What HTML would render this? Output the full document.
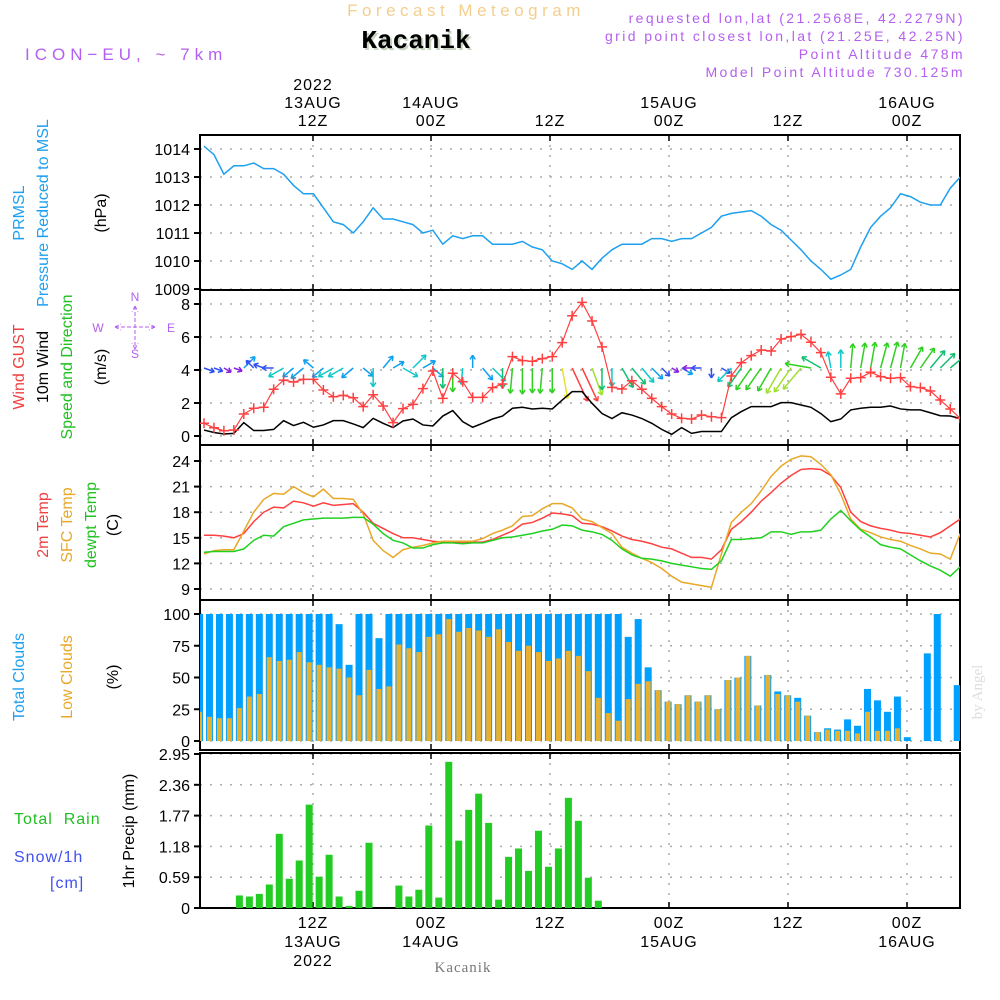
<!DOCTYPE html>
<html><head><meta charset="utf-8"><style>
html,body{margin:0;padding:0;background:#fff;}
svg{display:block;}
</style></head><body>
<svg id="chart" width="1000" height="1000" viewBox="0 0 1000 1000" xmlns="http://www.w3.org/2000/svg" font-family="Liberation Sans, sans-serif">
<defs><clipPath id="pc"><rect x="200" y="135" width="760" height="775"/></clipPath></defs>
<g>
<text x="466" y="16" text-anchor="middle" font-size="17" fill="#f3cf8e" letter-spacing="4.5">Forecast Meteogram</text>
<text x="418" y="50" text-anchor="middle" font-size="26" font-weight="bold" style="font-family:'Liberation Mono',monospace" fill="#c8d4c0">Kacanik</text>
<text x="416" y="48" text-anchor="middle" font-size="26" font-weight="bold" style="font-family:'Liberation Mono',monospace" fill="#000">Kacanik</text>
<text x="25" y="60" font-size="17" fill="#b45ff0" letter-spacing="5">ICON−EU, ~ 7km</text>
<g font-size="14" fill="#b45ff0" text-anchor="end" letter-spacing="2.4">
<text x="965" y="23">requested lon,lat (21.2568E, 42.2279N)</text>
<text x="965" y="41">grid point closest lon,lat (21.25E, 42.25N)</text>
<text x="965" y="59">Point Altitude 478m</text>
<text x="965" y="77">Model Point Altitude 730.125m</text>
</g>
</g>
<g id="frames"></g>
<g id="marks" clip-path="url(#pc)"></g>
<g id="labels"></g>
<g font-size="16">
<text transform="translate(24,213) rotate(-90)" text-anchor="middle" fill="#1ea0f0">PRMSL</text>
<text transform="translate(48,213) rotate(-90)" text-anchor="middle" fill="#1ea0f0">Pressure Reduced to MSL</text>
<text transform="translate(106,213) rotate(-90)" text-anchor="middle" fill="#000">(hPa)</text>
<text transform="translate(24,367) rotate(-90)" text-anchor="middle" fill="#f04040">Wind GUST</text>
<text transform="translate(48,367) rotate(-90)" text-anchor="middle" fill="#000">10m Wind</text>
<text transform="translate(72,367) rotate(-90)" text-anchor="middle" fill="#20c020">Speed and Direction</text>
<text transform="translate(106,367) rotate(-90)" text-anchor="middle" fill="#000">(m/s)</text>
<g fill="#b45ff0" font-size="12">
<text x="135" y="301" text-anchor="middle">N</text>
<text x="98" y="332" text-anchor="middle">W</text><text x="171" y="332" text-anchor="middle">E</text>
<text x="135" y="358" text-anchor="middle">S</text>
<path d="M115,327H155M115,327l6,-3M115,327l6,3M155,327l-6,-3M155,327l-6,3M135,306V349M135,306l-3,6M135,306l3,6M135,349l-3,-6M135,349l3,-6" stroke="#b45ff0" fill="none" stroke-dasharray="4,2"/>
</g>
<text transform="translate(48,525) rotate(-90)" text-anchor="middle" fill="#f04040">2m Temp</text>
<text transform="translate(72,525) rotate(-90)" text-anchor="middle" fill="#e8a828">SFC Temp</text>
<text transform="translate(96,525) rotate(-90)" text-anchor="middle" fill="#20c020">dewpt Temp</text>
<text transform="translate(118,525) rotate(-90)" text-anchor="middle" fill="#000">(C)</text>
<text transform="translate(24,677) rotate(-90)" text-anchor="middle" fill="#1ea0f0">Total Clouds</text>
<text transform="translate(72,677) rotate(-90)" text-anchor="middle" fill="#e8a828">Low Clouds</text>
<text transform="translate(118,677) rotate(-90)" text-anchor="middle" fill="#000">(%)</text>
<text x="14" y="824" fill="#20c020" letter-spacing="1">Total&#160;&#160;Rain</text>
<text x="14" y="862" fill="#4050f0" letter-spacing="1">Snow/1h</text>
<text x="50" y="888" fill="#4050f0" letter-spacing="1">[cm]</text>
<text transform="translate(134,831) rotate(-90)" text-anchor="middle" fill="#000">1hr Precip (mm)</text>
<text transform="translate(982,692) rotate(-90)" text-anchor="middle" fill="#ddd" style="font-family:'Liberation Serif',serif" font-size="15">by Angel</text>
<text x="463" y="972" text-anchor="middle" fill="#777" style="font-family:'Liberation Serif',serif" font-size="15" letter-spacing="1">Kacanik</text>
</g>
</svg>
<script>
const pressure=[1014.1,1013.8,1013.1,1013.4,1013.4,1013.5,1013.3,1013.3,1013.1,1012.7,1012.4,1012.4,1011.9,1011.4,1011.3,1011.0,1011.4,1011.9,1011.5,1011.5,1011.4,1011.3,1011.0,1011.1,1010.6,1010.9,1010.8,1010.9,1010.9,1010.6,1010.6,1010.6,1010.7,1010.5,1010.4,1010.0,1009.9,1009.7,1010.0,1009.7,1010.1,1010.4,1010.6,1010.6,1010.6,1010.8,1010.8,1010.7,1010.8,1010.8,1011.0,1011.2,1011.6,1011.7,1011.75,1011.8,1011.6,1011.3,1011.1,1010.75,1010.4,1010.0,1009.7,1009.35,1009.5,1009.7,1010.5,1011.2,1011.6,1011.9,1012.4,1012.3,1012.1,1012.0,1012.0,1012.6,1013.0];
const gust=[0.77,0.5,0.32,0.36,1.33,1.68,1.74,2.83,3.39,3.27,3.43,3.43,2.79,2.38,2.46,2.32,1.78,2.5,1.82,0.81,1.66,1.92,2.87,3.94,2.28,3.8,3.29,2.34,2.34,2.93,3.15,4.81,4.57,4.53,4.69,4.81,5.66,7.29,8.1,6.97,5.4,2.95,2.85,3.35,2.83,2.28,1.78,1.33,1.07,1.03,1.27,1.17,1.11,3.64,4.44,4.87,5.21,5.15,5.88,6.02,6.16,5.68,5.05,3.56,2.55,3.5,3.54,3.86,3.6,3.5,3.54,2.99,2.93,2.73,2.18,1.64,1.07];
const wind10m=[0.36,0.21,0.12,0.16,0.81,0.33,0.33,0.4,0.93,0.63,0.83,0.53,0.67,0.93,0.93,0.73,0.51,1.07,0.77,0.51,0.91,1.03,0.67,0.61,1.21,1.54,0.87,0.53,0.77,1.03,1.21,1.68,1.74,1.64,1.68,1.64,2.18,2.69,2.69,1.98,1.36,1.06,1.41,1.27,1.06,0.77,0.4,0.1,0.51,0.16,0.27,0.27,0.27,1.11,1.48,1.78,1.78,1.78,2.02,2.02,1.88,1.74,1.36,0.87,1.03,1.58,1.68,1.74,1.74,1.82,1.64,1.58,1.58,1.41,1.23,1.21,1.06];
const windDir=[-20,-20,-30,-20,45,135,160,180,-150,-140,-140,140,-140,-150,-150,-140,-40,-90,50,30,-30,45,30,-40,-90,-90,-95,90,-50,-45,-90,-95,-90,-90,-95,-90,-80,-65,-65,-70,-90,-90,-60,-50,-50,-45,-45,-30,-30,180,180,-90,-30,-135,-125,-125,-125,-120,-120,-125,-130,170,150,100,90,85,80,80,75,75,80,60,55,50,45,40,35];
const temp2m=[15.3,15.3,15.2,15.0,15.5,16.9,18.0,18.6,18.5,19.3,19.1,18.7,19.1,18.8,18.9,19.0,18.0,16.7,16.1,15.5,15.0,15.0,14.8,14.6,14.5,14.5,14.5,14.5,14.5,14.8,15.3,15.8,16.6,16.8,17.3,17.9,17.8,17.6,16.7,16.6,16.3,15.8,15.2,14.8,14.6,14.3,13.9,13.7,13.2,12.7,12.7,12.5,13.6,16.0,16.9,18.0,19.3,20.3,21.4,22.3,23.0,23.1,23.0,22.3,20.9,18.0,16.9,16.4,16.1,15.9,15.6,15.5,15.3,15.1,15.6,16.4,17.2];
const tempSfc=[13.1,13.5,13.6,13.6,15.8,18.0,19.5,20.2,20.1,21.0,20.3,19.8,20.7,19.6,19.6,19.5,17.8,14.7,13.5,12.7,13.6,13.9,14.1,14.4,14.6,14.6,14.6,14.6,14.9,15.5,15.9,16.4,17.5,17.6,18.4,19.0,19.0,18.5,17.2,16.9,16.2,15.5,13.9,13.2,12.6,12.1,11.4,10.5,9.8,9.6,9.4,9.2,13.1,16.8,18.0,19.0,20.5,22.2,23.4,24.2,24.6,24.5,23.6,22.4,20.1,17.2,16.0,15.6,15.1,14.8,14.6,14.1,13.7,13.2,13.1,12.5,15.5];
const dewpt=[13.3,13.4,13.4,13.4,13.7,14.7,15.3,15.2,16.3,16.7,17.1,17.2,17.3,17.3,17.3,17.4,17.4,16.6,15.5,14.7,14.4,13.8,13.8,14.2,14.4,14.4,14.3,14.4,14.4,14.7,15.0,15.1,15.3,15.5,15.8,16.0,16.5,16.4,15.9,15.7,15.4,14.7,13.7,13.0,12.6,12.5,12.3,12.0,11.8,11.6,11.4,11.3,12.3,14.8,14.8,14.9,15.0,15.7,15.7,15.4,15.7,15.7,15.9,17.2,18.2,17.0,15.9,15.1,14.2,13.9,13.7,13.0,12.3,11.7,11.2,10.5,11.6];
const totalClouds=[100,100,100,100,100,100,100,100,100,100,100,100,100,100,92,60,100,100,81,100,100,100,100,100,100,100,100,100,100,100,100,100,100,100,100,100,100,100,100,100,100,100,100,82,96,58,40,31,29,36,31,36,25,48,50,67,28,52,39,36,34,20,7,10,9,17,12,41,32,23,35,3,0,69,100,0,44];
const lowClouds=[23,19,18,18,26,35,37,66,63,64,70,62,60,58,57,50,36,56,41,43,76,73,70,82,84,96,86,89,87,82,88,78,71,75,70,63,65,71,67,55,34,22,16,33,45,47,40,31,29,36,31,36,25,48,50,67,28,52,37,36,31,20,7,9,8,8,6,23,8,8,10,0,0,0,0,0,0];
const precip=[0,0,0,0,0.24,0.22,0.27,0.45,1.42,0.56,0.91,1.98,0.60,1.02,0.22,0.04,0.33,1.25,0,0,0.43,0.22,0.35,1.58,0.20,2.80,1.29,1.88,2.19,1.63,0.16,0.98,1.14,0.71,1.48,0.79,1.14,2.11,1.67,0.58,0.14,0,0,0,0,0,0,0,0,0,0,0,0,0,0,0,0,0,0,0,0,0,0,0,0,0,0,0,0,0,0,0,0,0,0,0,0];
const pTicks=[1009,1010,1011,1012,1013,1014];
const wTicks=[0,2,4,6,8];
const tTicks=[9,12,15,18,21,24];
const cTicks=[0,25,50,75,100];
const rTicks=[0,0.59,1.18,1.77,2.36,2.95];
const timeTicks=["12Z","00Z","12Z","00Z","12Z","00Z"];
const dateTicks=["13AUG","14AUG","","15AUG","","16AUG"];

const NS='http://www.w3.org/2000/svg';
const xl=i=>204+9.95*i, xb=i=>199.5+9.97*i;
const yP=v=>149+(1014-v)*28, yW=v=>436-v*16.5, yT=v=>461+(24-v)*128/15, yC=v=>741-v*1.27, yR=v=>908-v*154/2.95;
const gridX=[313,431,550,669,788,907];
const panels=[{t:135,b:290,ticks:pTicks,y:yP,n:'pressure'},{t:290,b:445,ticks:wTicks,y:yW,n:'wind'},{t:445,b:600,ticks:tTicks,y:yT,n:'temperature'},{t:600,b:750,ticks:cTicks,y:yC,n:'clouds'},{t:753,b:908,ticks:rTicks,y:yR,n:'precip'}];
function mk(tag,at,parent){const e=document.createElementNS(NS,tag);for(const k in at)e.setAttribute(k,at[k]);parent.appendChild(e);return e;}
const F=document.getElementById('frames'),M=document.getElementById('marks'),L=document.getElementById('labels');
panels.forEach(p=>{
  const g=mk('g',{},F);
  
  
  p.ticks.forEach(v=>{
    const y=p.y(v);
    const gl=mk('line',{x1:200,x2:960,y1:y,y2:y,stroke:'#aaa','stroke-width':1.5,'stroke-dasharray':'2,8'},g);
    
    
    mk('line',{x1:194,x2:200,y1:y,y2:y,stroke:'#000','stroke-width':2},g);
    const tx=mk('text',{x:190,y:y+6,'text-anchor':'end','font-size':16,fill:'#000'},g);
    tx.textContent=String(v);
    
    
  });
  gridX.forEach(x=>{
    const vl=mk('line',{x1:x,x2:x,y1:p.t,y2:p.b,stroke:'#aaa','stroke-width':1.5,'stroke-dasharray':'2,8'},g);
    
    
    mk('line',{x1:x,x2:x,y1:p.t,y2:p.t+6,stroke:'#000','stroke-width':1.5},g);
    mk('line',{x1:x,x2:x,y1:p.b-6,y2:p.b,stroke:'#000','stroke-width':1.5},g);
  });
  mk('rect',{x:200,y:p.t,width:760,height:p.b-p.t,fill:'none',stroke:'#000','stroke-width':2},g);
});
gridX.forEach((x,k)=>{
  const top=k==0?['2022',dateTicks[k],timeTicks[k]]:[dateTicks[k],timeTicks[k]];
  top.forEach((s,j)=>{if(!s)return;const y=126-(top.length-1-j)*18;const t=mk('text',{x:x,y:y,'text-anchor':'middle','font-size':16,fill:'#000','letter-spacing':1},L);t.textContent=s;
    
    });
  const bot=[timeTicks[k],dateTicks[k]];if(k==0)bot.push('2022');
  bot.forEach((s,j)=>{if(!s)return;const t=mk('text',{x:x,y:928+j*19,'text-anchor':'middle','font-size':16,fill:'#000','letter-spacing':1},L);t.textContent=s;
    
    });
});
function line(arr,fy,color,name,w){
  const pl=mk('polyline',{points:arr.map((v,i)=>xl(i)+','+fy(v)).join(' '),fill:'none',stroke:color,'stroke-width':w||1.5},M);
  
  
  return pl;
}
line(pressure,yP,'#1ea0f0','pressure-line');
totalClouds.forEach((v,i)=>{const r=mk('rect',{x:xb(i)-3.5,y:yC(v),width:7,height:741-yC(v),fill:'#00a0ff'},M);
  
  });
lowClouds.forEach((v,i)=>{const r=mk('rect',{x:xb(i)-2.5,y:yC(v),width:5,height:741-yC(v),fill:'#e8b030'},M);
  
  });
precip.forEach((v,i)=>{const r=mk('rect',{x:xb(i)-3.5,y:yR(v),width:7,height:908-yR(v),fill:'#22cc22'},M);
  
  });
line(temp2m,yT,'#ff4040','temp-2m-line');
line(tempSfc,yT,'#e8a828','temp-sfc-line');
line(dewpt,yT,'#20d020','dewpoint-line');
function spdColor(s){const c=['#8a20e0','#3050f0','#10a0f0','#10c8c8','#10c070','#30d020','#a0e030','#e8e030','#ff4040'];return c[Math.max(0,Math.min(8,Math.round(s*3)))];}
windDir.forEach((d,i)=>{
  const s=wind10m[i],len=7+s*11,a=d*Math.PI/180,x0=xl(i),y0=368;
  const x1=x0+len*Math.cos(a),y1=y0-len*Math.sin(a),c=spdColor(s);
  const g=mk('g',{stroke:c,'stroke-width':1.5,fill:'none'},M);
  
  
  mk('line',{x1:x0,y1:y0,x2:x1,y2:y1},g);
  const h=5;[a+Math.PI*0.82,a-Math.PI*0.82].forEach(b=>mk('line',{x1:x1,y1:y1,x2:x1+h*Math.cos(b),y2:y1-h*Math.sin(b)},g));
});
line(wind10m,yW,'#000','wind-10m-line');
line(gust,yW,'#ff4040','gust-line',1.2);
gust.forEach((v,i)=>{const x=xl(i),y=yW(v);const g=mk('path',{d:`M${x-5},${y}H${x+5}M${x},${y-5}V${y+5}`,stroke:'#ff4040','stroke-width':1.5},M);
  
  });
</script>
</body></html>
